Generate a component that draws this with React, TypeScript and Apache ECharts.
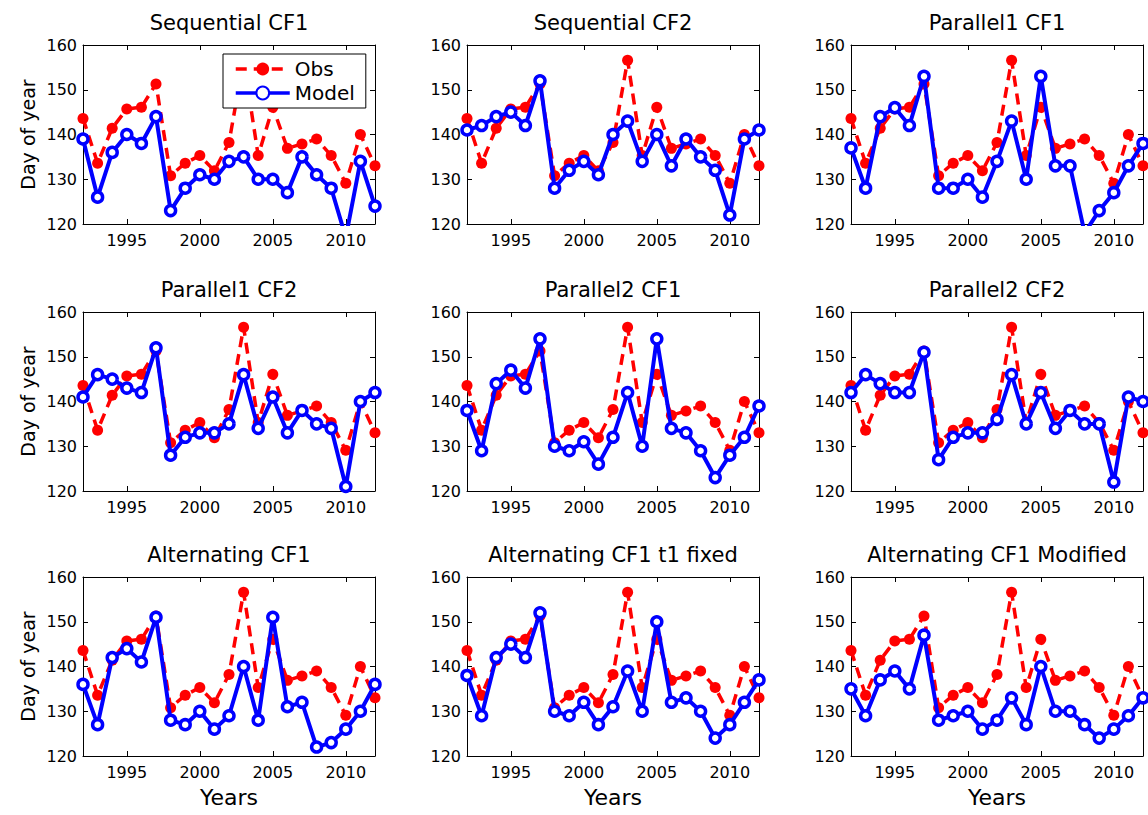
import React, { useEffect, useRef } from 'react';
import * as echarts from 'echarts';

const years = ['1992', '1993', '1994', '1995', '1996', '1997', '1998', '1999', '2000', '2001', '2002',
  '2003', '2004', '2005', '2006', '2007', '2008', '2009', '2010', '2011', '2012'];
const labelYears = ['1995', '2000', '2005', '2010'];
const yMin = 120;
const yMax = 160;
const yStep = 10;

const obs = [143.6, 133.6, 141.4, 145.7, 146.1, 151.3, 130.8, 133.6, 135.3, 131.9, 138.2,
  156.6, 135.3, 146.1, 136.9, 137.9, 139.0, 135.3, 129.1, 140.0, 133.0];

const titles = ['Sequential CF1', 'Sequential CF2', 'Parallel1 CF1',
  'Parallel1 CF2', 'Parallel2 CF1', 'Parallel2 CF2',
  'Alternating CF1', 'Alternating CF1 t1 fixed', 'Alternating CF1 Modified'];

const sequentialCF1 = [139, 126, 136, 140, 138, 144, 123, 128, 131, 130, 134, 135, 130, 130, 127, 135, 131, 128, 117, 134, 124];
const sequentialCF2 = [141, 142, 144, 145, 142, 152, 128, 132, 134, 131, 140, 143, 134, 140, 133, 139, 135, 132, 122, 139, 141];
const parallel1CF1 = [137, 128, 144, 146, 142, 153, 128, 128, 130, 126, 134, 143, 130, 153, 133, 133, 118, 123, 127, 133, 138];
const parallel1CF2 = [141, 146, 145, 143, 142, 152, 128, 132, 133, 133, 135, 146, 134, 141, 133, 138, 135, 134, 121, 140, 142];
const parallel2CF1 = [138, 129, 144, 147, 143, 154, 130, 129, 131, 126, 132, 142, 130, 154, 134, 133, 129, 123, 128, 132, 139];
const parallel2CF2 = [142, 146, 144, 142, 142, 151, 127, 132, 133, 133, 136, 146, 135, 142, 134, 138, 135, 135, 122, 141, 140];
const alternatingCF1 = [136, 127, 142, 144, 141, 151, 128, 127, 130, 126, 129, 140, 128, 151, 131, 132, 122, 123, 126, 130, 136];
const alternatingCF1t1 = [138, 129, 142, 145, 142, 152, 130, 129, 132, 127, 131, 139, 130, 150, 132, 133, 130, 124, 127, 132, 137];
const alternatingCF1Mod = [135, 129, 137, 139, 135, 147, 128, 129, 130, 126, 128, 133, 127, 140, 130, 130, 127, 124, 126, 129, 133];

const models = [sequentialCF1, sequentialCF2, parallel1CF1, parallel1CF2, parallel2CF1, parallel2CF2,
  alternatingCF1, alternatingCF1t1, alternatingCF1Mod];

const FONT = 'DejaVu Sans';
const colLefts = [83, 467, 851];
const rowTops = [45, 312, 577];
const plotW = 292;
const plotH = 179;

const isLabelYear = (_i: number, v: string) => labelYears.indexOf(String(v)) >= 0;

export default function App() {
  const ref = useRef<HTMLDivElement>(null);
  useEffect(() => {
    if (!ref.current) return;
    const chart = echarts.init(ref.current, null, { renderer: 'svg' });
    const grid: any[] = [];
    const xAxis: any[] = [];
    const yAxis: any[] = [];
    const series: any[] = [];
    models.forEach((model, i) => {
      const r = Math.floor(i / 3);
      const c = i % 3;
      grid.push({ left: colLefts[c], top: rowTops[r], width: plotW, height: plotH, show: false, containLabel: false });
      const tick = { show: true, inside: true, length: 5, interval: isLabelYear, lineStyle: { color: '#000', width: 1 } };
      xAxis.push({
        type: 'category', gridIndex: i, data: years, boundaryGap: false, position: 'bottom',
        axisLine: { show: true, onZero: false, lineStyle: { color: '#000', width: 1 } },
        axisTick: tick,
        axisLabel: { show: true, interval: isLabelYear, color: '#000', fontSize: 16, fontFamily: FONT, margin: 8 },
        splitLine: { show: false },
        name: r === 2 ? 'Years' : '', nameLocation: 'middle', nameGap: 30,
        nameTextStyle: { color: '#000', fontSize: 22, fontFamily: FONT },
      });
      xAxis.push({
        type: 'category', gridIndex: i, data: years, boundaryGap: false, position: 'top',
        axisLine: { show: true, onZero: false, lineStyle: { color: '#000', width: 1 } },
        axisTick: tick,
        axisLabel: { show: false },
        splitLine: { show: false },
        name: titles[i], nameLocation: 'middle', nameGap: 12,
        nameTextStyle: { color: '#000', fontSize: 21, fontFamily: FONT },
      });
      const ytick = { show: true, inside: true, length: 5, lineStyle: { color: '#000', width: 1 } };
      yAxis.push({
        type: 'value', gridIndex: i, min: yMin, max: yMax, interval: yStep, position: 'left',
        axisLine: { show: true, onZero: false, lineStyle: { color: '#000', width: 1 } },
        axisTick: ytick,
        axisLabel: { show: true, color: '#000', fontSize: 16, fontFamily: FONT, margin: 6 },
        splitLine: { show: false },
        name: c === 0 ? 'Day of year' : '', nameLocation: 'middle', nameGap: 46,
        nameTextStyle: { color: '#000', fontSize: 19, fontFamily: FONT },
      });
      yAxis.push({
        type: 'value', gridIndex: i, min: yMin, max: yMax, interval: yStep, position: 'right',
        axisLine: { show: true, onZero: false, lineStyle: { color: '#000', width: 1 } },
        axisTick: ytick,
        axisLabel: { show: false },
        splitLine: { show: false },
      });
      series.push({
        name: 'Obs', type: 'line', xAxisIndex: 2 * i, yAxisIndex: 2 * i, data: obs,
        symbol: 'circle', symbolSize: 11, showAllSymbol: true, clip: true,
        lineStyle: { color: '#ff0000', width: 3.5, type: [11, 7] },
        itemStyle: { color: '#ff0000' },
        z: 2,
      });
      series.push({
        name: 'Model', type: 'line', xAxisIndex: 2 * i, yAxisIndex: 2 * i, data: model,
        symbol: 'circle', symbolSize: 10, showAllSymbol: true, clip: true,
        lineStyle: { color: '#0000ff', width: 4 },
        itemStyle: { color: '#ffffff', borderColor: '#0000ff', borderWidth: 3.5 },
        z: 3,
      });
    });
    chart.setOption({
      animation: false,
      backgroundColor: '#ffffff',
      textStyle: { fontFamily: FONT },
      grid, xAxis, yAxis, series,
      legend: {
        show: true, orient: 'vertical', left: 223, top: 54,
        data: ['Obs', 'Model'],
        padding: [5, 11, 5, 11], itemGap: 4, itemWidth: 54, itemHeight: 16,
        backgroundColor: '#ffffff', borderColor: '#000', borderWidth: 1,
        lineStyle: { width: 3.5 },
        textStyle: { color: '#000', fontSize: 20, fontFamily: FONT },
        selectedMode: false,
        z: 10,
      },
    });
    return () => chart.dispose();
  }, []);
  return <div ref={ref} style={{ position: 'absolute', left: 0, top: 0, width: 1148, height: 815, background: '#fff' }} />;
}
